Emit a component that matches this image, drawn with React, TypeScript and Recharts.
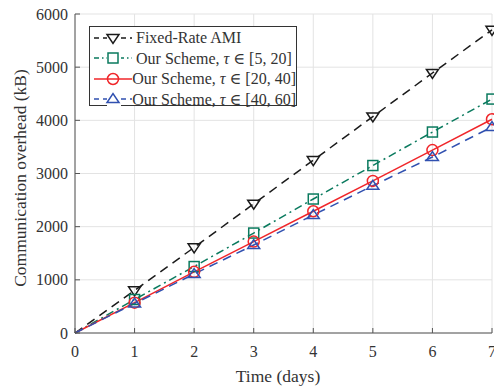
import React from 'react';
import { LineChart, Line, XAxis, YAxis, CartesianGrid } from 'recharts';

const days = [0, 1, 2, 3, 4, 5, 6, 7];
const fixedRate = [0, 800, 1610, 2430, 3250, 4070, 4890, 5700];
const scheme5to20 = [0, 630, 1250, 1880, 2520, 3150, 3780, 4400];
const scheme20to40 = [0, 570, 1150, 1720, 2290, 2860, 3440, 4020];
const scheme40to60 = [0, 555, 1110, 1655, 2220, 2770, 3310, 3875];
const xTicks = [0, 1, 2, 3, 4, 5, 6, 7];
const yTicks = [0, 1000, 2000, 3000, 4000, 5000, 6000];

const data = days.map((d, i) => ({
  day: d,
  fixed: fixedRate[i],
  s1: scheme5to20[i],
  s2: scheme20to40[i],
  s3: scheme40to60[i],
}));

const FONT = '"Liberation Serif", "DejaVu Serif", serif';
const TEXT = '#333';
const AXIS = '#555';

const BLACK = '#1a1a1a';
const GREEN = '#0a7a5e';
const RED = '#f0262a';
const BLUE = '#3050b0';

// no marker at the origin, like the reference
const skip = (props: any) => props.cx == null || props.cy == null || props.index === 0;

const DownTriangle = (props: any) => {
  const { cx, cy, stroke } = props;
  if (skip(props)) return null;
  const r = 6;
  return (
    <path
      d={`M${cx - r},${cy - r * 0.6} L${cx + r},${cy - r * 0.6} L${cx},${cy + r * 0.9} Z`}
      fill="none"
      stroke={stroke}
      strokeWidth={1.5}
    />
  );
};

const UpTriangle = (props: any) => {
  const { cx, cy, stroke } = props;
  if (skip(props)) return null;
  const r = 6;
  return (
    <path
      d={`M${cx - r},${cy + r * 0.6} L${cx + r},${cy + r * 0.6} L${cx},${cy - r * 0.9} Z`}
      fill="none"
      stroke={stroke}
      strokeWidth={1.5}
    />
  );
};

const Square = (props: any) => {
  const { cx, cy, stroke } = props;
  if (skip(props)) return null;
  const r = 5;
  return <rect x={cx - r} y={cy - r} width={2 * r} height={2 * r} fill="none" stroke={stroke} strokeWidth={1.5} />;
};

const Circle = (props: any) => {
  const { cx, cy, stroke } = props;
  if (skip(props)) return null;
  return <circle cx={cx} cy={cy} r={5.5} fill="none" stroke={stroke} strokeWidth={1.5} />;
};

const XTick = (props: any) => {
  const { x, y, payload } = props;
  return (
    <g>
      <line x1={x} y1={y} x2={x} y2={y - 5} stroke={AXIS} />
      <text x={x} y={y + 24} textAnchor="middle" fontFamily={FONT} fontSize={16} fill={TEXT}>
        {payload.value}
      </text>
    </g>
  );
};

const YTick = (props: any) => {
  const { x, y, payload } = props;
  return (
    <g>
      <line x1={x} y1={y} x2={x + 5} y2={y} stroke={AXIS} />
      <text x={x - 7} y={y + 5.5} textAnchor="end" fontFamily={FONT} fontSize={16} fill={TEXT}>
        {payload.value}
      </text>
    </g>
  );
};

const legendItems = [
  { label: 'Fixed-Rate AMI', color: BLACK, dash: '5 4', marker: 'down' },
  { label: 'Our Scheme, ', tau: '[5, 20]', color: GREEN, dash: '5 3 1.5 3', marker: 'square' },
  { label: 'Our Scheme, ', tau: '[20, 40]', color: RED, dash: '', marker: 'circle' },
  { label: 'Our Scheme, ', tau: '[40, 60]', color: BLUE, dash: '5 4', marker: 'up' },
];

const LegendBox = () => (
  <div
    style={{
      position: 'absolute',
      left: 89,
      top: 26,
      width: 208,
      height: 80,
      background: '#fff',
      border: '1px solid #333',
      boxSizing: 'border-box',
      fontFamily: FONT,
      fontSize: 16,
      color: TEXT,
      paddingTop: 1,
    }}
  >
    {legendItems.map((it) => (
      <div key={it.label + (it.tau || '')} style={{ display: 'flex', alignItems: 'center', height: 20.3 }}>
        <svg width={44} height={16} style={{ marginLeft: 2 }}>
          <line x1={2} y1={8} x2={40} y2={8} stroke={it.color} strokeWidth={1.5} strokeDasharray={it.dash} />
          <rect x={15} y={1} width={14} height={14} fill="#fff" opacity={it.marker === 'circle' ? 0 : 1} />
          {it.marker === 'down' && <DownTriangle cx={21} cy={8} stroke={it.color} />}
          {it.marker === 'up' && <UpTriangle cx={21} cy={8} stroke={it.color} />}
          {it.marker === 'square' && <Square cx={21} cy={8} stroke={it.color} />}
          {it.marker === 'circle' && <Circle cx={21} cy={8} stroke={it.color} />}
        </svg>
        <span style={{ whiteSpace: 'nowrap' }}>
          {it.label}
          {it.tau && (
            <>
              <i>τ</i> ∈ {it.tau}
            </>
          )}
        </span>
      </div>
    ))}
  </div>
);

export default function App() {
  return (
    <div style={{ position: 'absolute', left: 0, top: 0, width: 494, height: 387, background: '#fff' }}>
      <LineChart width={494} height={387} data={data} margin={{ top: 14, right: 2, bottom: 0, left: 0 }}>
        <CartesianGrid stroke="#e3e3e3" strokeWidth={1} />
        <XAxis
          dataKey="day"
          type="number"
          domain={[0, 7]}
          ticks={xTicks}
          tickLine={false}
          tickSize={0}
          tickMargin={0}
          tick={<XTick />}
          height={54}
          stroke={AXIS}
          interval={0}
        />
        <YAxis
          type="number"
          domain={[0, 6000]}
          ticks={yTicks}
          tickLine={false}
          tickSize={0}
          tickMargin={0}
          tick={<YTick />}
          width={75}
          stroke={AXIS}
          interval={0}
        />
        <XAxis
          xAxisId="top"
          dataKey="day"
          type="number"
          orientation="top"
          domain={[0, 7]}
          ticks={xTicks}
          height={0}
          mirror
          tick={false}
          tickSize={5}
          stroke={AXIS}
        />
        <YAxis
          yAxisId="right"
          type="number"
          orientation="right"
          domain={[0, 6000]}
          ticks={yTicks}
          width={0}
          mirror
          tick={false}
          tickSize={5}
          stroke={AXIS}
        />
        <Line
          dataKey="fixed"
          stroke={BLACK}
          strokeWidth={1.5}
          strokeDasharray="9 6"
          dot={<DownTriangle />}
          isAnimationActive={false}
        />
        <Line
          dataKey="s1"
          stroke={GREEN}
          strokeWidth={1.5}
          strokeDasharray="8 4 2 4"
          dot={<Square />}
          isAnimationActive={false}
        />
        <Line
          dataKey="s2"
          stroke={RED}
          strokeWidth={1.5}
          dot={<Circle />}
          isAnimationActive={false}
        />
        <Line
          dataKey="s3"
          stroke={BLUE}
          strokeWidth={1.5}
          strokeDasharray="9 6"
          dot={<UpTriangle />}
          isAnimationActive={false}
        />
      </LineChart>
      <div
        style={{
          position: 'absolute',
          left: 20,
          top: 178,
          transform: 'translate(-50%, -50%) rotate(-90deg)',
          fontFamily: FONT,
          fontSize: 17.5,
          color: TEXT,
          whiteSpace: 'nowrap',
        }}
      >
        Communication overhead (kB)
      </div>
      <div
        style={{
          position: 'absolute',
          left: 278,
          top: 376,
          transform: 'translate(-50%, -50%)',
          fontFamily: FONT,
          fontSize: 17.5,
          color: TEXT,
          whiteSpace: 'nowrap',
        }}
      >
        Time (days)
      </div>
      <LegendBox />
    </div>
  );
}
